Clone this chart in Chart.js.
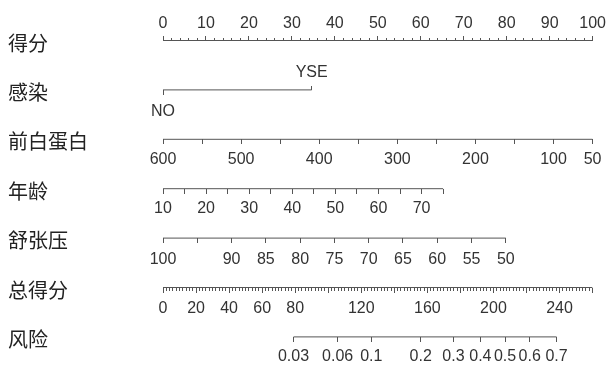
<!DOCTYPE html>
<html>
<head>
<meta charset="utf-8">
<script src="https://cdn.jsdelivr.net/npm/chart.js@4"></script>
<style>
  html, body { margin: 0; background: #fff; }
  #wrap { width: 607px; height: 367px; }
</style>
</head>
<body>
<div id="wrap"><canvas id="nomo"></canvas></div>
<script>
// ─── Nomogram data ─────────────────────────────────────────────────
const rowNames = ['得分', '感染', '前白蛋白', '年龄', '舒张压', '总得分', '风险'];

// points row (0 - 100)
const pointRange = [0, 100];
const pointTicks = [0, 10, 20, 30, 40, 50, 60, 70, 80, 90, 100];

// infection: level -> points
const infectionLevels = ['NO', 'YSE'];
const infectionPoints = [0, 34.6];

// prealbumin: 600 -> 0 pts, 50 -> 100 pts
const albuminEnds = [600, 50];
const albuminEndPoints = [0, 100];
const albuminTicks = [600, 550, 500, 450, 400, 350, 300, 250, 200, 150, 100, 50];
const albuminLabels = [600, 500, 400, 300, 200, 100, 50];

// age: 10 -> 0 pts, 75 -> 65.2 pts
const ageEnds = [10, 75];
const ageEndPoints = [0, 65.2];
const ageTicks = [10, 15, 20, 25, 30, 35, 40, 45, 50, 55, 60, 65, 70, 75];
const ageLabels = [10, 20, 30, 40, 50, 60, 70];

// diastolic pressure: 100 -> 0 pts, 50 -> 79.8 pts
const dbpEnds = [100, 50];
const dbpEndPoints = [0, 79.8];
const dbpTicks = [100, 95, 90, 85, 80, 75, 70, 65, 60, 55, 50];
const dbpLabels = [100, 90, 85, 80, 75, 70, 65, 60, 55, 50];

// total points
const totalRange = [0, 260];
const totalTicks = [0, 20, 40, 60, 80, 100, 120, 140, 160, 180, 200, 220, 240, 260];
const totalLabels = [0, 20, 40, 60, 80, 120, 160, 200, 240];

// risk: probability ticks and the total points at both ends
const riskTicks = [0.03, 0.06, 0.1, 0.2, 0.3, 0.4, 0.5, 0.6, 0.7];
const riskLabels = ['0.03', '0.06', '0.1', '0.2', '0.3', '0.4', '0.5', '0.6', '0.7'];
const riskEndTotals = [79, 238.2];

// ─── Scale helpers ─────────────────────────────────────────────────
const LINE = '#555555';
const TEXT = '#333333';
const GAP = 49.4;   // px between rows
const TOP = 40.5;   // px of first row
const tickFont = { family: "'Liberation Sans', Arial, sans-serif", size: 16 };

const logit = (p) => Math.log(p / (1 - p));
const yAt = (row, dy = 0) => row + dy / GAP;

// value range of an axis whose ends sit at the given points
function spanFor(ends, endPts) {
  const per = (endPts[1] - endPts[0]) / (ends[1] - ends[0]);
  const a = ends[0] + (pointRange[0] - endPts[0]) / per;
  const b = ends[0] + (pointRange[1] - endPts[0]) / per;
  return { min: Math.min(a, b), max: Math.max(a, b), reverse: a > b };
}

const ptsSpan = { min: pointRange[0], max: pointRange[1] };
const albSpan = spanFor(albuminEnds, albuminEndPoints);
const ageSpan = spanFor(ageEnds, ageEndPoints);
const dbpSpan = spanFor(dbpEnds, dbpEndPoints);
const totSpan = { min: totalRange[0], max: totalRange[1] };

const riskPer = (riskEndTotals[1] - riskEndTotals[0]) / (logit(riskTicks[riskTicks.length - 1]) - logit(riskTicks[0]));
const riskA = riskEndTotals[0] - riskPer * logit(riskTicks[0]);
const riskSpan = { min: (totalRange[0] - riskA) / riskPer, max: (totalRange[1] - riskA) / riskPer };

function axis({ span, y, len = 0, ticks = null, step, label = null, pad = 0 }) {
  return {
    type: 'linear',
    axis: 'x',
    position: { y },
    min: span.min,
    max: span.max,
    reverse: !!span.reverse,
    border: { display: false },
    grid: {
      display: len > 0,
      drawOnChartArea: false,
      drawTicks: len > 0,
      tickLength: len,
      tickColor: LINE,
      tickWidth: 1,
    },
    ticks: {
      display: !!label,
      stepSize: step,
      maxTicksLimit: 1000,
      autoSkip: false,
      maxRotation: 0,
      minRotation: 0,
      padding: pad,
      color: TEXT,
      font: tickFont,
      callback: label || (() => ''),
    },
    afterBuildTicks: ticks ? (s) => { s.ticks = ticks.map((v) => ({ value: v })); } : undefined,
  };
}

const seg = (axisId, row, x0, x1) => ({
  data: [{ x: x0, y: row }, { x: x1, y: row }],
  xAxisID: axisId,
  yAxisID: 'y',
  borderColor: LINE,
  borderWidth: 1,
  pointRadius: 0,
  showLine: true,
  fill: false,
});

new Chart(document.getElementById('nomo'), {
  type: 'scatter',
  data: {
    datasets: [
      seg('ptsMajor', 0, pointRange[0], pointRange[1]),
      seg('infNo', 1, infectionPoints[0], infectionPoints[1]),
      seg('alb', 2, albuminEnds[0], albuminEnds[1]),
      seg('age', 3, ageEnds[0], ageEnds[1]),
      seg('dbp', 4, dbpEnds[0], dbpEnds[1]),
      seg('totMajor', 5, totalRange[0], totalRange[1]),
      seg('risk', 6, logit(riskTicks[0]), logit(riskTicks[riskTicks.length - 1])),
    ],
  },
  options: {
    responsive: true,
    maintainAspectRatio: false,
    animation: false,
    devicePixelRatio: 1,
    layout: { padding: { left: 8, right: 13, top: 0, bottom: 0 } },
    plugins: { legend: { display: false }, tooltip: { enabled: false } },
    scales: {
      x: { type: 'linear', display: false },
      y: {
        type: 'linear',
        position: 'left',
        reverse: true,
        min: -TOP / GAP,
        max: (367 - TOP) / GAP,
        grid: { display: false },
        border: { display: false },
        ticks: {
          autoSkip: false,
          crossAlign: 'far',
          padding: 0,
          color: '#222222',
          font: { family: "'Noto Sans CJK SC', sans-serif", size: 20 },
          callback: (v, i) => rowNames[i],
        },
        afterBuildTicks: (s) => { s.ticks = rowNames.map((_, i) => ({ value: yAt(i, 2.5) })); },
        afterFit: (s) => { s.width = 155; s.paddingTop = 0; s.paddingBottom = 0; },
      },

      // 得分
      ptsLab: axis({ span: ptsSpan, y: yAt(0, -27), ticks: pointTicks, label: (v) => String(v) }),
      ptsMajor: axis({ span: ptsSpan, y: yAt(0, -5), len: 5, ticks: pointTicks }),
      ptsMinor: axis({ span: ptsSpan, y: yAt(0, -3), len: 3, step: 2 }),

      // 感染
      infNo: axis({ span: ptsSpan, y: yAt(1), len: 5, pad: 7.5, ticks: [infectionPoints[0]], label: () => infectionLevels[0] }),
      infYesTick: axis({ span: ptsSpan, y: yAt(1, -4), len: 4, ticks: [infectionPoints[1]] }),
      infYesLab: axis({ span: ptsSpan, y: yAt(1, -26.5), ticks: [infectionPoints[1]], label: () => infectionLevels[1] }),

      // 前白蛋白
      alb: axis({ span: albSpan, y: yAt(2), len: 5, pad: 5.5, ticks: albuminTicks,
        label: (v) => (albuminLabels.includes(v) ? String(v) : '') }),

      // 年龄
      age: axis({ span: ageSpan, y: yAt(3), len: 5, pad: 5.5, ticks: ageTicks,
        label: (v) => (ageLabels.includes(v) ? String(v) : '') }),

      // 舒张压
      dbp: axis({ span: dbpSpan, y: yAt(4), len: 5, pad: 6.5, ticks: dbpTicks,
        label: (v) => (dbpLabels.includes(v) ? String(v) : '') }),

      // 总得分
      totMajor: axis({ span: totSpan, y: yAt(5), len: 5, pad: 6, ticks: totalTicks,
        label: (v) => (totalLabels.includes(v) ? String(v) : '') }),
      totMinor: axis({ span: totSpan, y: yAt(5), len: 3, step: 2 }),

      // 风险
      risk: axis({ span: riskSpan, y: yAt(6), len: 5, pad: 5, ticks: riskTicks.map(logit),
        label: (v, i) => riskLabels[i] }),
    },
  },
});
</script>
</body>
</html>
